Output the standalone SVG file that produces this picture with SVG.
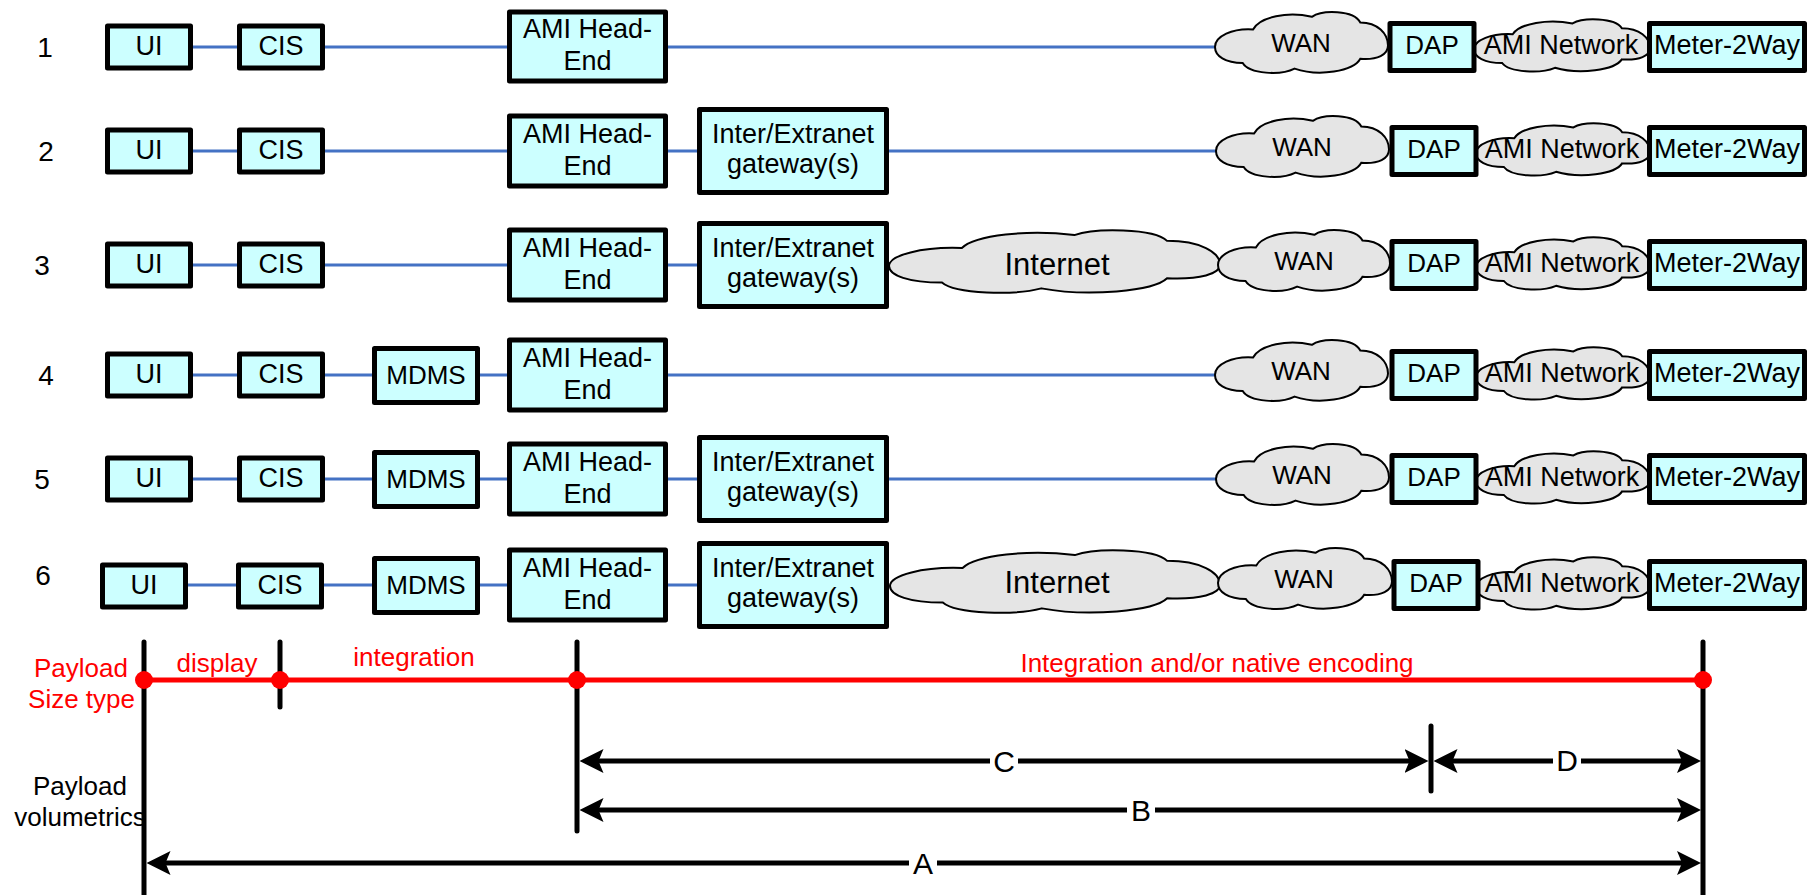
<svg xmlns="http://www.w3.org/2000/svg" width="1816" height="895" viewBox="0 0 1816 895">
<style>
text{font-family:"Liberation Sans",Arial,sans-serif;font-size:27px;text-anchor:middle;fill:#000}
.box{fill:#ccffff;stroke:#000;stroke-width:5;stroke-linejoin:round}
.cloud{fill:#e5e5e5;stroke:#000;stroke-width:2}
.link{stroke:#4472c4;stroke-width:3;fill:none}
.num{font-size:28px}
.red{fill:#ff0000;font-size:26px}
.end{text-anchor:end}
.s26{font-size:26px}
.net{font-size:31px}
.lbl{font-size:30px}
.rl{stroke:#ff0000;stroke-width:5}
.bl{stroke:#000;stroke-width:5;stroke-linecap:round}
.dim{stroke:#000;stroke-width:5;fill:none}
.dot{fill:#ff0000}
.gap{fill:#fff}
</style>
<defs>
<path id="cloud" vector-effect="non-scaling-stroke" d="M0,57 C0,42 10,30 22,32 C26,14 42,6 56,14 C62,4 80,4 84,22 C94,22 100,38 100,55 C100,68 94,76 84,74 C80,92 60,100 46,88 C38,98 20,96 16,80 C6,80 0,70 0,57 Z"/>
<marker id="ah" viewBox="0 0 24 24" refX="18" refY="12" markerWidth="24" markerHeight="24" markerUnits="userSpaceOnUse" orient="auto-start-reverse"><path d="M0,0 L24,12 L0,24 L5,12 Z" fill="#000"/></marker>
</defs>
<rect width="1816" height="895" fill="#fff"/>

<g id="row-numbers">
<text class="num" x="45" y="57">1</text>
<text class="num" x="46" y="161">2</text>
<text class="num" x="42" y="275">3</text>
<text class="num" x="46" y="385">4</text>
<text class="num" x="42" y="489">5</text>
<text class="num" x="43" y="585">6</text>
</g>

<g id="connectors">
<path class="link" d="M193,47H237 M325,47H507 M668,47H1216"/>
<path class="link" d="M193,151H237 M325,151H507 M668,151H697 M889,151H1217"/>
<path class="link" d="M193,265H237 M325,265H507 M668,265H697"/>
<path class="link" d="M193,375H237 M325,375H372 M480,375H507 M668,375H1216"/>
<path class="link" d="M193,479H237 M325,479H372 M480,479H507 M668,479H697 M889,479H1217"/>
<path class="link" d="M188,585H236 M324,585H372 M480,585H507 M668,585H697"/>
</g>

<!-- Row 1 -->
<g id="r1-ui"><rect class="box" x="107.5" y="26" width="83" height="42"/><text x="149" y="55">UI</text></g>
<g id="r1-cis"><rect class="box" x="239.5" y="26" width="83" height="42"/><text x="281" y="55">CIS</text></g>
<g id="r1-ami"><rect class="box" x="509.5" y="12" width="156" height="69"/><text x="587.5" y="38">AMI Head-</text><text x="587.5" y="70">End</text></g>
<g id="r1-wan"><use href="#cloud" class="cloud" transform="translate(1215,7) scale(1.73,0.7)"/><text x="1301" y="52" class="s26">WAN</text></g>
<g id="r1-aminet"><use href="#cloud" class="cloud" transform="translate(1474,15) scale(1.76,0.6)"/><text x="1561" y="54">AMI Network</text></g>
<g id="r1-dap"><rect class="box" x="1390" y="23.5" width="84" height="47"/><text x="1432" y="54" class="s26">DAP</text></g>
<g id="r1-meter"><rect class="box" x="1649.5" y="23.5" width="155" height="47"/><text x="1727" y="54">Meter-2Way</text></g>

<!-- Row 2 -->
<g id="r2-ui"><rect class="box" x="107.5" y="130" width="83" height="42"/><text x="149" y="159">UI</text></g>
<g id="r2-cis"><rect class="box" x="239.5" y="130" width="83" height="42"/><text x="281" y="159">CIS</text></g>
<g id="r2-ami"><rect class="box" x="509.5" y="116" width="156" height="70"/><text x="587.5" y="143">AMI Head-</text><text x="587.5" y="175">End</text></g>
<g id="r2-gw"><rect class="box" x="699.5" y="109.5" width="187" height="83"/><text x="793" y="143">Inter/Extranet</text><text x="793" y="173">gateway(s)</text></g>
<g id="r2-wan"><use href="#cloud" class="cloud" transform="translate(1216,111) scale(1.73,0.7)"/><text x="1302" y="156" class="s26">WAN</text></g>
<g id="r2-aminet"><use href="#cloud" class="cloud" transform="translate(1476,119) scale(1.74,0.6)"/><text x="1562" y="158">AMI Network</text></g>
<g id="r2-dap"><rect class="box" x="1392" y="127.5" width="84" height="47"/><text x="1434" y="158" class="s26">DAP</text></g>
<g id="r2-meter"><rect class="box" x="1649.5" y="127.5" width="155" height="47"/><text x="1727" y="158">Meter-2Way</text></g>

<!-- Row 3 -->
<g id="r3-ui"><rect class="box" x="107.5" y="244" width="83" height="42"/><text x="149" y="273">UI</text></g>
<g id="r3-cis"><rect class="box" x="239.5" y="244" width="83" height="42"/><text x="281" y="273">CIS</text></g>
<g id="r3-ami"><rect class="box" x="509.5" y="230" width="156" height="70"/><text x="587.5" y="257">AMI Head-</text><text x="587.5" y="289">End</text></g>
<g id="r3-gw"><rect class="box" x="699.5" y="223.5" width="187" height="83"/><text x="793" y="257">Inter/Extranet</text><text x="793" y="287">gateway(s)</text></g>
<g id="r3-internet"><use href="#cloud" class="cloud" transform="translate(889,225) scale(3.31,0.72)"/><text x="1057" y="275" class="net">Internet</text></g>
<g id="r3-wan"><use href="#cloud" class="cloud" transform="translate(1218,225) scale(1.72,0.7)"/><text x="1304" y="270" class="s26">WAN</text></g>
<g id="r3-aminet"><use href="#cloud" class="cloud" transform="translate(1476,233) scale(1.74,0.6)"/><text x="1562" y="272">AMI Network</text></g>
<g id="r3-dap"><rect class="box" x="1392" y="241.5" width="84" height="47"/><text x="1434" y="272" class="s26">DAP</text></g>
<g id="r3-meter"><rect class="box" x="1649.5" y="241.5" width="155" height="47"/><text x="1727" y="272">Meter-2Way</text></g>

<!-- Row 4 -->
<g id="r4-ui"><rect class="box" x="107.5" y="354" width="83" height="42"/><text x="149" y="383">UI</text></g>
<g id="r4-cis"><rect class="box" x="239.5" y="354" width="83" height="42"/><text x="281" y="383">CIS</text></g>
<g id="r4-mdms"><rect class="box" x="374.5" y="348.5" width="103" height="54"/><text x="426" y="384" class="s26">MDMS</text></g>
<g id="r4-ami"><rect class="box" x="509.5" y="340" width="156" height="70"/><text x="587.5" y="367">AMI Head-</text><text x="587.5" y="399">End</text></g>
<g id="r4-wan"><use href="#cloud" class="cloud" transform="translate(1215,335) scale(1.73,0.7)"/><text x="1301" y="380" class="s26">WAN</text></g>
<g id="r4-aminet"><use href="#cloud" class="cloud" transform="translate(1476,343) scale(1.74,0.6)"/><text x="1562" y="382">AMI Network</text></g>
<g id="r4-dap"><rect class="box" x="1392" y="351.5" width="84" height="47"/><text x="1434" y="382" class="s26">DAP</text></g>
<g id="r4-meter"><rect class="box" x="1649.5" y="351.5" width="155" height="47"/><text x="1727" y="382">Meter-2Way</text></g>

<!-- Row 5 -->
<g id="r5-ui"><rect class="box" x="107.5" y="458" width="83" height="42"/><text x="149" y="487">UI</text></g>
<g id="r5-cis"><rect class="box" x="239.5" y="458" width="83" height="42"/><text x="281" y="487">CIS</text></g>
<g id="r5-mdms"><rect class="box" x="374.5" y="452.5" width="103" height="54"/><text x="426" y="488" class="s26">MDMS</text></g>
<g id="r5-ami"><rect class="box" x="509.5" y="444" width="156" height="70"/><text x="587.5" y="471">AMI Head-</text><text x="587.5" y="503">End</text></g>
<g id="r5-gw"><rect class="box" x="699.5" y="437.5" width="187" height="83"/><text x="793" y="471">Inter/Extranet</text><text x="793" y="501">gateway(s)</text></g>
<g id="r5-wan"><use href="#cloud" class="cloud" transform="translate(1216,439) scale(1.73,0.7)"/><text x="1302" y="484" class="s26">WAN</text></g>
<g id="r5-aminet"><use href="#cloud" class="cloud" transform="translate(1476,447) scale(1.74,0.6)"/><text x="1562" y="486">AMI Network</text></g>
<g id="r5-dap"><rect class="box" x="1392" y="455.5" width="84" height="47"/><text x="1434" y="486" class="s26">DAP</text></g>
<g id="r5-meter"><rect class="box" x="1649.5" y="455.5" width="155" height="47"/><text x="1727" y="486">Meter-2Way</text></g>

<!-- Row 6 -->
<g id="r6-ui"><rect class="box" x="102.5" y="565" width="83" height="42"/><text x="144" y="594">UI</text></g>
<g id="r6-cis"><rect class="box" x="238.5" y="565" width="83" height="42"/><text x="280" y="594">CIS</text></g>
<g id="r6-mdms"><rect class="box" x="374.5" y="558.5" width="103" height="54"/><text x="426" y="594" class="s26">MDMS</text></g>
<g id="r6-ami"><rect class="box" x="509.5" y="550" width="156" height="70"/><text x="587.5" y="577">AMI Head-</text><text x="587.5" y="609">End</text></g>
<g id="r6-gw"><rect class="box" x="699.5" y="543.5" width="187" height="83"/><text x="793" y="577">Inter/Extranet</text><text x="793" y="607">gateway(s)</text></g>
<g id="r6-internet"><use href="#cloud" class="cloud" transform="translate(890,545) scale(3.3,0.72)"/><text x="1057" y="593" class="net">Internet</text></g>
<g id="r6-wan"><use href="#cloud" class="cloud" transform="translate(1218,543) scale(1.74,0.7)"/><text x="1304" y="588" class="s26">WAN</text></g>
<g id="r6-aminet"><use href="#cloud" class="cloud" transform="translate(1476,553) scale(1.74,0.6)"/><text x="1562" y="592">AMI Network</text></g>
<g id="r6-dap"><rect class="box" x="1394" y="561.5" width="84" height="47"/><text x="1436" y="592" class="s26">DAP</text></g>
<g id="r6-meter"><rect class="box" x="1649.5" y="561.5" width="155" height="47"/><text x="1727" y="592">Meter-2Way</text></g>

<!-- Payload scale -->
<g id="payload-labels">
<text class="red end" x="128" y="677">Payload</text>
<text class="red end" x="135" y="708">Size type</text>
<text class="red" x="217" y="672">display</text>
<text class="red" x="414" y="666">integration</text>
<text class="red" x="1217" y="672">Integration and/or native encoding</text>
<text class="s26" x="80" y="795">Payload</text>
<text class="s26" x="80" y="826">volumetrics</text>
</g>
<g id="scale-lines">
<line class="bl" x1="144" y1="642" x2="144" y2="900"/>
<line class="bl" x1="280" y1="642" x2="280" y2="707"/>
<line class="bl" x1="577" y1="642" x2="577" y2="831"/>
<line class="bl" x1="1703" y1="642" x2="1703" y2="900"/>
<line class="bl" x1="1431" y1="726" x2="1431" y2="791"/>
<line class="rl" x1="144" y1="680" x2="1703" y2="680"/>
<circle class="dot" cx="144" cy="680" r="9"/>
<circle class="dot" cx="280" cy="680" r="9"/>
<circle class="dot" cx="577" cy="680" r="9"/>
<circle class="dot" cx="1703" cy="680" r="9"/>
</g>
<g id="dimensions">
<line class="dim" x1="585.5" y1="761" x2="1422.5" y2="761" marker-start="url(#ah)" marker-end="url(#ah)"/>
<line class="dim" x1="1439.5" y1="761" x2="1695" y2="761" marker-start="url(#ah)" marker-end="url(#ah)"/>
<line class="dim" x1="585.5" y1="810" x2="1695" y2="810" marker-start="url(#ah)" marker-end="url(#ah)"/>
<line class="dim" x1="152.5" y1="863" x2="1695" y2="863" marker-start="url(#ah)" marker-end="url(#ah)"/>
<rect class="gap" x="990" y="746" width="28" height="30"/><text class="lbl" x="1004" y="772">C</text>
<rect class="gap" x="1553" y="745" width="28" height="30"/><text class="lbl" x="1567" y="771">D</text>
<rect class="gap" x="1127" y="795" width="28" height="30"/><text class="lbl" x="1141" y="821">B</text>
<rect class="gap" x="909" y="848" width="28" height="30"/><text class="lbl" x="923" y="874">A</text>
</g>
</svg>
